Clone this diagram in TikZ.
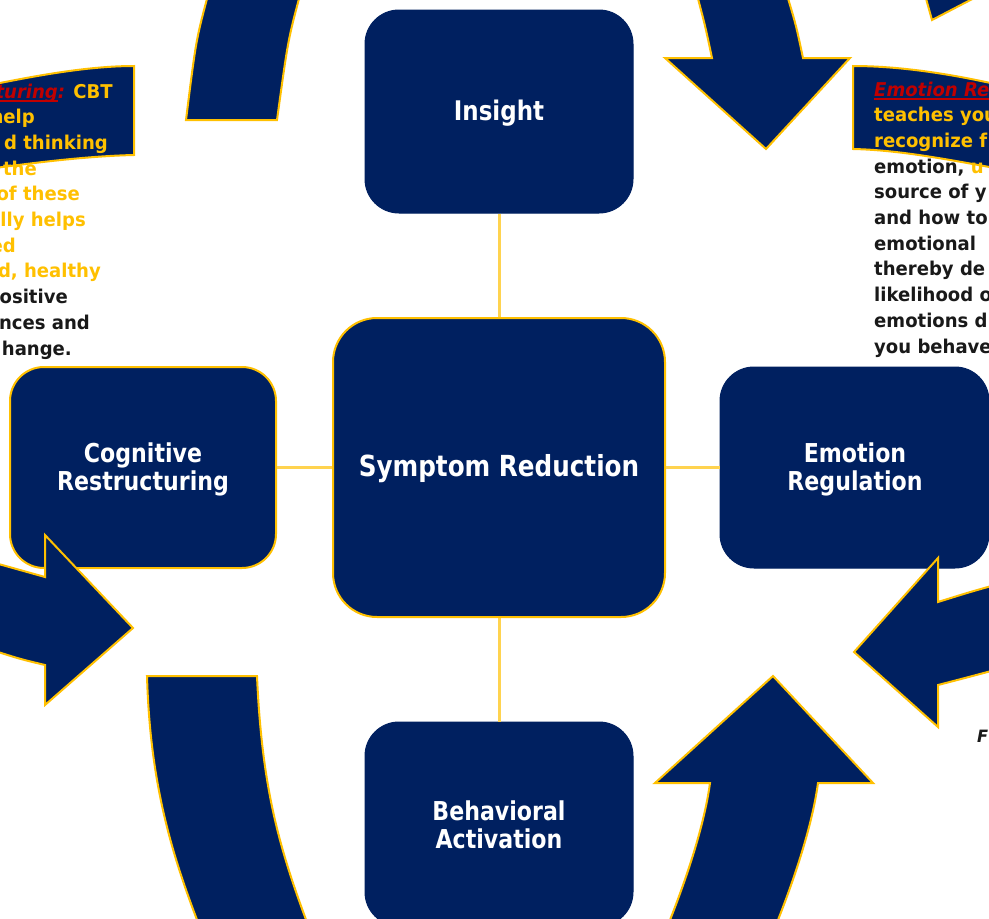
\documentclass[tikz,border=0pt]{standalone}
\usepackage{fontspec}
\setmainfont{DejaVu Sans}[FakeStretch=0.85]
\newfontfamily\sidefont{DejaVu Sans}[FakeStretch=0.95]
\definecolor{navy}{HTML}{002060}
\definecolor{gold}{HTML}{FFC000}
\definecolor{linegold}{HTML}{FFD34F}
\definecolor{darkred}{HTML}{C00000}
\newcommand\myul[1]{\setbox0\hbox{#1}\rlap{\raisebox{-4pt}{\rule{\wd0}{2.4pt}}}\box0}
\tikzset{
  box/.style={rounded corners=34pt, fill=navy, draw=navy, line width=1pt, inner sep=0pt},
  goldbox/.style={box, draw=gold, line width=2pt},
  lbl/.style={text=white, font=\bfseries\fontsize{26}{28}\selectfont, align=center, inner sep=0pt},
  conn/.style={draw=linegold, line width=3pt},
  blockarrow/.style={fill=navy, draw=gold, line width=2pt, line join=miter},
  flag/.style={fill=navy, draw=gold, line width=2pt},
  sidetxt/.style={font=\sidefont\bfseries\fontsize{19}{22}\selectfont, inner sep=0pt, text=gold},
  blacktxt/.style={sidetxt, text=black!90}
}
\begin{document}
\begin{tikzpicture}[x=1pt,y=-1pt]
\useasboundingbox (0,0) rectangle (989,919);
\clip (0,0) rectangle (989,919);
\fill[white] (0,0) rectangle (989,919);

% boxes
\node[box, minimum width=268, minimum height=203] (ins) at (499,111.5) {};
\node[goldbox, rounded corners=44pt, minimum width=332, minimum height=299] (sr) at (499,467.5) {};
\node[goldbox, minimum width=266, minimum height=201] (cr) at (143,467.5) {};
\node[box, minimum width=269, minimum height=201] (er) at (854.5,467.5) {};
\node[box, minimum width=268, minimum height=204] (ba) at (499,824) {};

% labels
\node[lbl, font=\bfseries\fontsize{27}{28}\selectfont] (insl) at (499,113) {Insight};
\node[lbl, font=\bfseries\fontsize{29}{32}\selectfont] (srl) at (499,469) {Symptom Reduction};
\node[lbl] (crl) at (143,469.5) {Cognitive\\Restructuring};
\node[lbl] (erl) at (855,469.5) {Emotion\\Regulation};
\node[lbl] (bal) at (499,825) {Behavioral\\Activation};

% connectors
\draw[conn] (ins.south) -- (sr.north);
\draw[conn] (sr.west) -- (cr.east);
\draw[conn] (sr.east) -- (er.west);
\draw[conn] (sr.south) -- (ba.north);

% curved block arrows
\filldraw[blockarrow] (208,-5) .. controls (196,40) .. (186,120) -- (277,120) .. controls (288,40) .. (300,-5) -- cycle;
\filldraw[blockarrow] (697,-5) .. controls (705,25) .. (712,58) -- (665,58) -- (766,149) -- (850,58) -- (803,58) .. controls (796,25) .. (787,-5) -- cycle;
\filldraw[blockarrow] (925,-5) -- (932,20) -- (980,-5) -- cycle;
\filldraw[blockarrow] (-5,563) .. controls (20,570) .. (45,577) -- (45,535) -- (133,628) -- (45,705) -- (45,665) .. controls (20,659) .. (-5,651) -- cycle;
\filldraw[blockarrow] (147,676) -- (257,676) .. controls (262,790) and (280,850) .. (308,925) -- (199,925) .. controls (170,850) and (150,780) .. (147,676) -- cycle;
\filldraw[blockarrow] (668,925) .. controls (690,870) and (705,820) .. (710,783) -- (655,783) -- (773,676) -- (873,783) -- (818,783) .. controls (813,820) and (798,870) .. (776,925) -- cycle;
\filldraw[blockarrow] (995,585) .. controls (970,592) .. (938,602) -- (938,558) -- (854,652) -- (938,727) -- (938,685) .. controls (965,678) .. (995,670) -- cycle;

% wave flags
\filldraw[flag] (-5,84) .. controls (40,75) and (90,66) .. (134,66) -- (134,155) .. controls (90,156) and (40,162) .. (-5,168) -- cycle;
\filldraw[flag] (853,66) .. controls (900,66) and (950,74) .. (995,84) -- (995,168) .. controls (950,160) and (900,150) .. (853,149) -- cycle;

% left text
\node[sidetxt, anchor=base east] (l1) at (113,98) {\textcolor{darkred}{\myul{\itshape Restructuring}\itshape:} CBT};
\node[sidetxt, anchor=base east] (l2) at (35,123.7) {help};
\node[sidetxt, anchor=base east] (l3) at (108,149.4) {d thinking};
\node[sidetxt, anchor=base east] (l4) at (37,175.1) {e the};
\node[sidetxt, anchor=base east] (l5) at (80,200.8) {of these};
\node[sidetxt, anchor=base east] (l6) at (86,226.5) {lly helps};
\node[sidetxt, anchor=base east] (l7) at (16,252.2) {ed};
\node[sidetxt, anchor=base east] (l8) at (101,277.9) {d, healthy};
\node[blacktxt, anchor=base east] (l9) at (68,303.6) {ositive};
\node[blacktxt, anchor=base east] (l10) at (90,329.3) {nces and};
\node[blacktxt, anchor=base east] (l11) at (72,355) {hange.};

% right text
\node[sidetxt, anchor=base west, text=darkred] (r1) at (874,96) {\myul{\itshape Emotion Reg}};
\node[sidetxt, anchor=base west] (r2) at (874,121.7) {teaches you};
\node[sidetxt, anchor=base west] (r3) at (874,147.4) {recognize f};
\node[blacktxt, anchor=base west] (r4) at (874,173.1) {emotion, \textcolor{gold}{u}};
\node[blacktxt, anchor=base west] (r5) at (874,198.8) {source of y};
\node[blacktxt, anchor=base west] (r6) at (874,224.5) {and how to};
\node[blacktxt, anchor=base west] (r7) at (874,250.2) {emotional};
\node[blacktxt, anchor=base west] (r8) at (874,275.9) {thereby de};
\node[blacktxt, anchor=base west] (r9) at (874,301.6) {likelihood o};
\node[blacktxt, anchor=base west] (r10) at (874,327.3) {emotions d};
\node[blacktxt, anchor=base west] (r11) at (874,353) {you behave};

\node[blacktxt, anchor=base west, font=\sidefont\bfseries\itshape\fontsize{17}{20}\selectfont] (fig) at (977,742) {F};
\end{tikzpicture}
\end{document}
